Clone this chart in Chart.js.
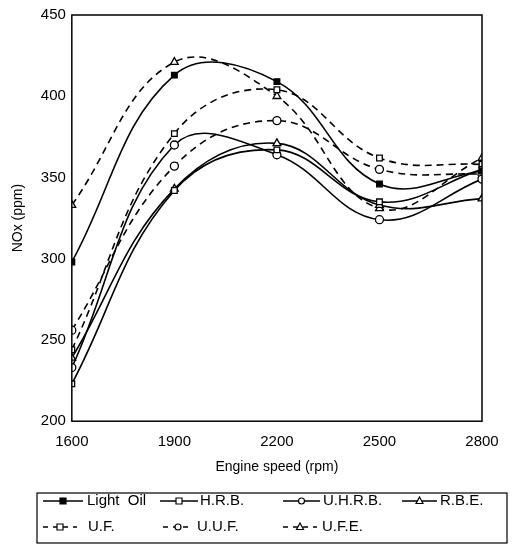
<!DOCTYPE html>
<html>
<head>
<meta charset="utf-8">
<script src="https://cdn.jsdelivr.net/npm/chart.js@4"></script>
<style>
  body { margin: 0; background: #fff; }
  #wrap { width: 514px; height: 544px; }
</style>
</head>
<body>
<div id="wrap"><canvas id="myChart" width="514" height="544"></canvas></div>
<script>
'use strict';
// engine speeds (rpm)
let speeds = [1600, 1900, 2200, 2500, 2800];
// NOx (ppm) per fuel
let lightOil = [298, 413, 409, 346, 354];
let hrb = [223, 342, 367, 335, 355];
let uhrb = [233, 370, 364, 324, 349];
let rbe = [239, 343, 371, 333, 337];
let uf = [244, 377, 404, 362, 358];
let uuf = [256, 357, 385, 355, 352];
let ufe = [333, 421, 400, 331, 362];
let yTicks = [200, 250, 300, 350, 400, 450];

let fontName = '"Liberation Sans", Arial, sans-serif';

function pts(vals) {
  return vals.map(function (v, i) { return { x: speeds[i], y: v }; });
}

function makeSet(label, vals, style, fill, dashed) {
  return {
    label: label,
    data: pts(vals),
    borderColor: '#000',
    borderWidth: 1.6,
    borderDash: dashed ? [7, 5] : [],
    pointStyle: style,
    pointRadius: style === 'triangle' ? 4.5 : 4,
    pointBorderWidth: 1.3,
    pointBorderColor: '#000',
    pointBackgroundColor: fill ? '#000' : '#fff',
    tension: 0.4,
    fill: false
  };
}

let sets = [
  makeSet('Light  Oil', lightOil, 'rect', true, false),
  makeSet('H.R.B.', hrb, 'rect', false, false),
  makeSet('U.H.R.B.', uhrb, 'circle', false, false),
  makeSet('R.B.E.', rbe, 'triangle', false, false),
  makeSet('U.F.', uf, 'rect', false, true),
  makeSet('U.U.F.', uuf, 'circle', false, true),
  makeSet('U.F.E.', ufe, 'triangle', false, true)
];

// legend spots: [row y, line start, line end, text x]
let legendSpots = [
  [501, 43, 83, 87], [501, 160, 198, 200], [501, 283, 320, 323], [501, 402, 437, 440],
  [527, 43, 77, 88], [527, 163, 193, 197], [527, 283, 317, 322]
];

let framePlugin = {
  id: 'frame',
  afterDatasetsDraw(chart) {
    let c = chart.ctx, a = chart.chartArea;
    c.save();
    c.strokeStyle = '#000';
    c.lineWidth = 1.5;
    c.strokeRect(a.left, a.top, a.right - a.left, a.bottom - a.top);
    c.restore();
  },
  afterDraw(chart) {
    let c = chart.ctx;
    c.save();
    c.strokeStyle = '#000';
    c.lineWidth = 1.2;
    c.strokeRect(37, 493, 470, 50);
    c.font = '15px ' + fontName;
    c.textBaseline = 'middle';
    for (let i = 0; i < sets.length; i++) {
      let s = sets[i], p = legendSpots[i];
      let m = (p[1] + p[2]) / 2;
      c.lineWidth = 1.6;
      c.strokeStyle = '#000';
      c.setLineDash(s.borderDash.length ? [5, 5] : []);
      c.beginPath();
      c.moveTo(p[1], p[0]);
      c.lineTo(p[2], p[0]);
      c.stroke();
      c.setLineDash([]);
      c.lineWidth = 1.2;
      c.fillStyle = s.pointBackgroundColor;
      c.beginPath();
      if (s.pointStyle === 'rect') {
        c.rect(m - 3, p[0] - 3, 6, 6);
      } else if (s.pointStyle === 'circle') {
        c.arc(m, p[0], 3, 0, Math.PI * 2);
      } else {
        c.moveTo(m, p[0] - 4); c.lineTo(m + 3.5, p[0] + 2.5); c.lineTo(m - 3.5, p[0] + 2.5); c.closePath();
      }
      c.fill();
      c.stroke();
      c.fillStyle = '#000';
      c.fillText(s.label, p[3], p[0]);
    }
    c.restore();
  }
};

let ctx = document.getElementById('myChart');
let myChart = new Chart(ctx, {
  type: 'line',
  data: { datasets: sets },
  options: {
    responsive: false,
    animation: false,
    devicePixelRatio: 1,
    layout: { padding: { left: 6, right: 32, top: 6, bottom: 68 } },
    plugins: { legend: { display: false }, tooltip: { enabled: false } },
    scales: {
      x: {
        type: 'linear',
        min: speeds[0],
        max: speeds[speeds.length - 1],
        afterBuildTicks(axis) { axis.ticks = speeds.map(function (v) { return { value: v }; }); },
        grid: { display: false, drawTicks: false },
        border: { display: false },
        ticks: { color: '#000', font: { family: fontName, size: 15 }, padding: 12, maxRotation: 0,
          callback: function (v) { return String(v); } },
        title: { display: true, text: 'Engine speed (rpm)', color: '#000', font: { family: fontName, size: 14 }, padding: { top: -4, bottom: 0 } }
      },
      y: {
        min: yTicks[0],
        max: yTicks[yTicks.length - 1],
        afterBuildTicks(axis) { axis.ticks = yTicks.map(function (v) { return { value: v }; }); },
        grid: { display: false, drawTicks: false },
        border: { display: false },
        ticks: { color: '#000', font: { family: fontName, size: 15 }, padding: 6,
          callback: function (v) { return String(v); } },
        title: { display: true, text: 'NOx (ppm)', color: '#000', font: { family: fontName, size: 14 }, padding: { bottom: 8 } }
      }
    }
  },
  plugins: [framePlugin]
});
</script>
</body>
</html>
